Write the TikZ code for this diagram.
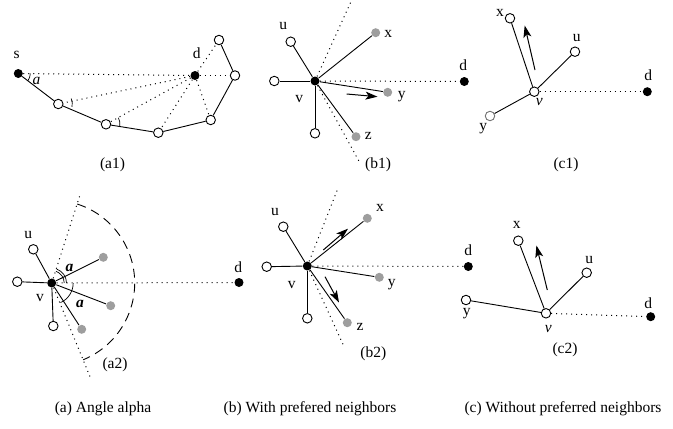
\documentclass[tikz,border=0pt]{standalone}
\usepackage{fontspec}
\setmainfont{Liberation Serif}
\usetikzlibrary{arrows.meta}
\begin{document}
\begin{tikzpicture}[x=1pt,y=-1pt,line width=0.9pt,
  every node/.style={font=\fontsize{15.5}{18}\selectfont},
  blk/.style={circle,fill=black,inner sep=0pt,minimum size=9pt},
  opn/.style={circle,draw,fill=white,inner sep=0pt,minimum size=9.5pt,line width=0.9pt},
  gry/.style={circle,fill=black!38,inner sep=0pt,minimum size=9pt},
  lbl/.style={inner sep=0pt},
  dots/.style={dash pattern=on 1pt off 4pt,line width=1pt},
  lnk/.style={line width=0.9pt},
  mv/.style={-{Stealth[length=12pt,width=8pt,inset=3pt]},line width=1pt},
  ang/.style={line width=0.7pt},
  sector/.style={dash pattern=on 9pt off 6pt,line width=0.9pt}]
\useasboundingbox (0,0) rectangle (673,429);

% ---------------- (a1) ----------------
\node[blk] (s) at (18.3,73.5) {};
\node[blk] (ad) at (195,75.5) {};
\node[opn] (c1) at (58.3,104) {};
\node[opn] (c2) at (106,124.3) {};
\node[opn] (c3) at (158.3,132.7) {};
\node[opn] (c4) at (210.7,120) {};
\node[opn] (c5) at (235,75.5) {};
\node[opn] (c6) at (219,40) {};
\node[lbl] (sl) at (16.7,55) {s};
\node[lbl] (adl) at (196.7,53) {d};
\draw[lnk] (s) -- (c1) -- (c2) -- (c3) -- (c4) -- (c5) -- (c6);
\draw[dots] (s) -- (ad);
\draw[dots] (ad) -- (c5);
\foreach \n in {c1,c2,c3,c4,c6} \draw[dots] (ad) -- (\n);
\draw[ang] ([shift={(0:12)}]s.center) arc[start angle=0,end angle=38,radius=12];
\node[lbl] (sa) at (36.5,80.5) {\textit{a}};
\draw[ang] ([shift={(-23:14)}]c1.center) arc[start angle=-23,end angle=12,radius=14];
\draw[ang] ([shift={(-28:14)}]c2.center) arc[start angle=-28,end angle=9,radius=14];
\node[lbl] (a1l) at (112.5,165) {(a1)};

% ---------------- (b1) ----------------
\node[blk] (bv) at (315,81) {};
\node[opn] (bu) at (290.7,41.7) {};
\node[opn] (bl) at (274.3,81) {};
\node[opn] (bb) at (315,133.3) {};
\node[gry] (bx) at (375.7,32.7) {};
\node[gry] (by) at (387.7,92.3) {};
\node[gry] (bz) at (356,136.7) {};
\node[blk] (bd) at (464.3,81.5) {};
\coordinate (bt) at (351.7,0);
\coordinate (bw) at (360,163);
\node[lbl] (bul) at (283.3,26) {u};
\node[lbl] (bxl) at (388.3,34) {x};
\node[lbl] (byl) at (401.7,97) {y};
\node[lbl] (bzl) at (368.3,136) {z};
\node[lbl] (bdl) at (463.3,65) {d};
\node[lbl] (bvl) at (299.3,99) {v};
\draw[dots] (bv.center) -- (bt);
\draw[dots] (bv.center) -- (bw);
\draw[dots] (bv) -- (bd);
\foreach \n in {bu,bl,bb,bx,by,bz} \draw[lnk] (bv) -- (\n);
\coordinate (ba1) at (346.7,94);
\coordinate (ba2) at (377.5,96.7);
\draw[mv] (ba1) -- (ba2);
\node[lbl] (b1l) at (378,165) {(b1)};

% ---------------- (c1) ----------------
\node[opn] (cv) at (534.3,91.7) {};
\node[opn] (cx) at (510,18.3) {};
\node[opn] (cu) at (575,51.7) {};
\node[opn,draw=black!55] (cy) at (490,116) {};
\node[blk] (cd) at (647.3,91.7) {};
\node[lbl] (cvl) at (539.3,102.5) {\textit{v}};
\node[lbl] (cxl) at (500,12.7) {x};
\node[lbl] (cul) at (576.7,38.3) {u};
\node[lbl] (cyl) at (483.3,128.3) {y};
\node[lbl] (cdl) at (648.3,75) {d};
\draw[lnk] (cv) -- (cx);
\draw[lnk] (cv) -- (cu);
\draw[lnk] (cv) -- (cy);
\draw[dots] (cv) -- (cd);
\coordinate (ca1) at (535,70);
\coordinate (ca2) at (524.7,25.5);
\draw[mv] (ca1) -- (ca2);
\node[lbl] (c1l) at (566,165) {(c1)};

% ---------------- (a2) ----------------
\node[blk] (av) at (51.7,283) {};
\node[opn] (au) at (33.3,249.3) {};
\node[opn] (al) at (17.3,281.7) {};
\node[opn] (ab) at (53.3,326) {};
\node[gry] (ag1) at (103.3,257.3) {};
\node[gry] (ag2) at (110.7,305.7) {};
\node[gry] (ag3) at (81.7,329.3) {};
\node[blk] (ad2) at (239,282.5) {};
\coordinate (at) at (80,195);
\coordinate (aw) at (90,376.7);
\node[lbl] (aul) at (28.3,235) {u};
\node[lbl] (ad2l) at (238.3,266.7) {d};
\node[lbl] (avl) at (40,298.3) {v};
\draw[dots] (av.center) -- (at);
\draw[dots] (av.center) -- (aw);
\draw[dots] (av) -- (ad2);
\foreach \n in {au,al,ab,ag1,ag2,ag3} \draw[lnk] (av) -- (\n);
\draw[sector] ([shift={(-72:83)}]av.center) arc[start angle=-72,end angle=67.7,radius=83];
\draw[ang] ([shift={(0:12.5)}]av.center) arc[start angle=0,end angle=-70,radius=12.5];
\draw[ang] ([shift={(0:14.8)}]av.center) arc[start angle=0,end angle=-70,radius=14.8];
\draw[ang] ([shift={(0:21.5)}]av.center) arc[start angle=0,end angle=66,radius=21.5];
\node[lbl] (aa1) at (69.5,268) {\textbf{\textit{a}}};
\node[lbl] (aa2) at (80,303.5) {\textbf{\textit{a}}};
\node[lbl] (a2l) at (115,365) {(a2)};

% ---------------- (b2) ----------------
\node[blk] (ev) at (307.3,266) {};
\node[opn] (eu) at (283.3,226.7) {};
\node[opn] (el) at (266.7,266.7) {};
\node[opn] (eb) at (307.3,318.3) {};
\node[gry] (ex) at (367.3,218.3) {};
\node[gry] (ey) at (379.3,277.3) {};
\node[gry] (ez) at (347.3,322.7) {};
\node[blk] (ed) at (468.3,266.5) {};
\coordinate (et) at (337.3,190);
\coordinate (ew) at (343.3,345);
\node[lbl] (eul) at (275,211.7) {u};
\node[lbl] (exl) at (380,208.3) {x};
\node[lbl] (eyl) at (391.7,285) {y};
\node[lbl] (ezl) at (360,326.7) {z};
\node[lbl] (edl) at (468.3,250) {d};
\node[lbl] (evl) at (291.7,285) {v};
\draw[dots] (ev.center) -- (et);
\draw[dots] (ev.center) -- (ew);
\draw[dots] (ev) -- (ed);
\foreach \n in {eu,el,eb,ex,ey,ez} \draw[lnk] (ev) -- (\n);
\coordinate (ea1) at (323.3,250);
\coordinate (ea2) at (348,228.7);
\coordinate (ea3) at (325,276.7);
\coordinate (ea4) at (339,302.5);
\draw[mv] (ea1) -- (ea2);
\draw[mv] (ea3) -- (ea4);
\node[lbl] (b2l) at (373.3,353.3) {(b2)};

% ---------------- (c2) ----------------
\node[opn] (fv) at (546,313.3) {};
\node[opn] (fx) at (518.3,240.7) {};
\node[opn] (fu) at (586.7,272.7) {};
\node[opn] (fy) at (466,300) {};
\node[blk] (fd) at (650.7,316.7) {};
\node[lbl] (fvl) at (548.3,329) {\textit{v}};
\node[lbl] (fxl) at (516.7,225) {x};
\node[lbl] (ful) at (589.3,260) {u};
\node[lbl] (fyl) at (466.7,313.3) {y};
\node[lbl] (fdl) at (648.3,303.3) {d};
\draw[lnk] (fv) -- (fx);
\draw[lnk] (fv) -- (fu);
\draw[lnk] (fv) -- (fy);
\draw[dots] (fv) -- (fd);
\coordinate (fa1) at (547.3,290);
\coordinate (fa2) at (536.4,245.5);
\draw[mv] (fa1) -- (fa2);
\node[lbl] (c2l) at (565,350) {(c2)};

% ---------------- captions ----------------
\node[lbl] (capa) at (103,409) {(a) Angle alpha};
\node[lbl] (capb) at (310,409) {(b) With prefered neighbors};
\node[lbl] (capc) at (563,409) {(c) Without preferred neighbors};
\end{tikzpicture}
\end{document}
